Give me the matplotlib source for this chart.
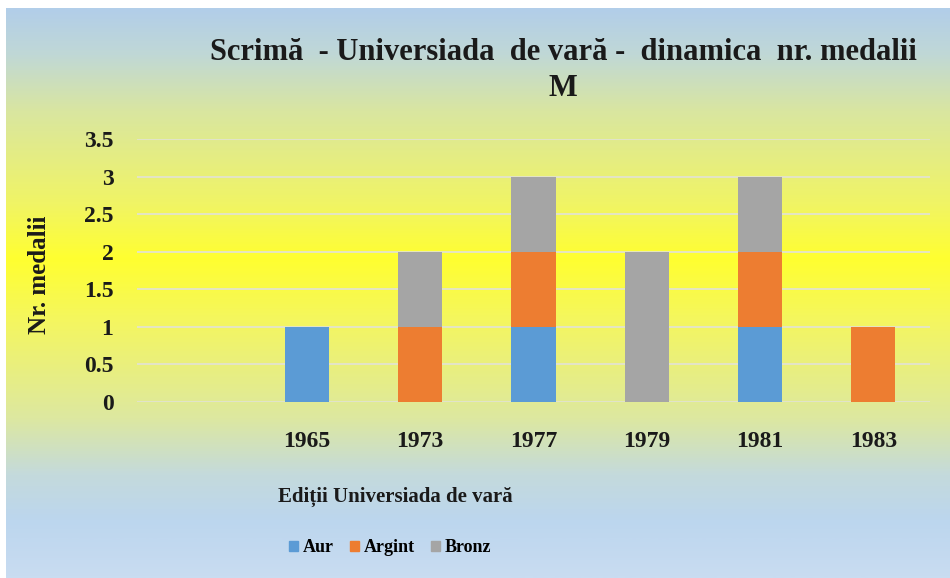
import numpy as np
import matplotlib
matplotlib.use("Agg")
import matplotlib.pyplot as plt
from matplotlib.colors import LinearSegmentedColormap
from matplotlib.patches import Patch

categories = ['', '1965', '1973', '1977', '1979', '1981', '1983']
aur = [0, 1, 0, 1, 0, 1, 0]
argint = [0, 0, 1, 1, 0, 1, 1]
bronz = [0, 0, 1, 1, 2, 1, 0]
yticks = [0, 0.5, 1, 1.5, 2, 2.5, 3, 3.5]
ytick_labels = ['0', '0.5', '1', '1.5', '2', '2.5', '3', '3.5']

FONT = 'Liberation Serif'
W, H = 950, 578
fig = plt.figure(figsize=(W / 100, H / 100), dpi=100)

# background gradient
bg = fig.add_axes([6 / W, 0, 1 - 6 / W, 570 / H], zorder=-10)
stops = [(0.0, '#c9dcf1'), (0.10, '#bcd6ee'), (0.18, '#c4dadc'), (0.28, '#dde8a0'),
         (0.45, '#f4f660'), (0.56, '#ffff30'), (0.66, '#f0f466'), (0.82, '#d9e6a0'),
         (0.92, '#c0d8d6'), (1.0, '#b2cee9')]
cmap = LinearSegmentedColormap.from_list('bg', stops)
grad = np.linspace(0, 1, 512).reshape(-1, 1)
bg.imshow(grad, aspect='auto', cmap=cmap, origin='lower', extent=[0, 1, 0, 1])
bg.set_axis_off()

ax = fig.add_axes([137 / W, 1 - 402 / H, (930 - 137) / W, (402 - 139) / H])
ax.patch.set_alpha(0)
x = np.arange(len(categories))
a = np.array(aur); g = np.array(argint); b = np.array(bronz)
width = 0.39
ax.bar(x, a, width, color='#5b9bd5', label='Aur', zorder=3)
ax.bar(x, g, width, bottom=a, color='#ed7d31', label='Argint', zorder=3)
ax.bar(x, b, width, bottom=a + g, color='#a5a5a5', label='Bronz', zorder=3)

ax.set_xlim(-0.5, len(categories) - 0.5)
ax.set_ylim(0, 3.5)
ax.set_yticks(yticks)
ax.set_yticklabels(ytick_labels)
ax.set_xticks(x)
ax.set_xticklabels(categories)
for s in ax.spines.values():
    s.set_visible(False)
ax.tick_params(length=0)
ax.tick_params(axis='y', pad=17)
ax.tick_params(axis='x', pad=21)
for lbl in ax.get_yticklabels() + ax.get_xticklabels():
    lbl.set_fontfamily(FONT)
    lbl.set_fontweight('bold')
    lbl.set_fontsize(17)
    lbl.set_color('#1a1a1a')
ax.yaxis.grid(True, color='#e2e2d6', linewidth=1.2, zorder=0)
ax.set_axisbelow(True)

fig.text(563 / W, 1 - 52 / H, 'Scrimă  - Universiada  de vară -  dinamica  nr. medalii',
         ha='center', va='center', fontfamily=FONT, fontweight='bold', fontsize=22, color='#1a1a1a')
fig.text(563 / W, 1 - 88 / H, 'M', ha='center', va='center', fontfamily=FONT,
         fontweight='bold', fontsize=22, color='#1a1a1a')
fig.text(39 / W, 1 - 275 / H, 'Nr. medalii', rotation=90, ha='center', va='center',
         fontfamily=FONT, fontweight='bold', fontsize=18, color='#1a1a1a')
fig.text(395 / W, 1 - 497 / H, 'Ediții Universiada de vară', ha='center', va='center',
         fontfamily=FONT, fontweight='bold', fontsize=15, color='#1a1a1a')

handles = [Patch(color='#5b9bd5', label='Aur'), Patch(color='#ed7d31', label='Argint'),
           Patch(color='#a5a5a5', label='Bronz')]
fig.legend(handles=handles, loc='center', bbox_to_anchor=(390 / W, 1 - 548 / H), ncol=3,
           frameon=False, prop={'family': FONT, 'weight': 'bold', 'size': 13},
           handlelength=0.5, handleheight=0.5, handletextpad=0.25, columnspacing=0.9)

fig.savefig('out.png', dpi=100)
